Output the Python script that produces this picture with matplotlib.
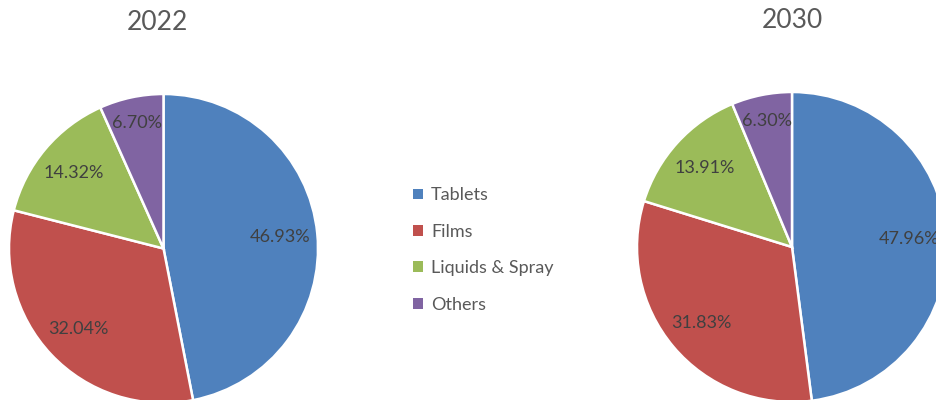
import matplotlib.pyplot as plt
from matplotlib.patches import Patch

# Market share by product type
categories = ['Tablets', 'Films', 'Liquids & Spray', 'Others']
share_2022 = [46.93, 32.04, 14.32, 6.70]
share_2030 = [47.96, 31.83, 13.91, 6.30]
years = ['2022', '2030']

colors = ['#4F81BD', '#C0504D', '#9BBB59', '#8064A2']

plt.rcParams['font.family'] = ['Lato', 'DejaVu Sans']

W, H = 936, 400
fig = plt.figure(figsize=(W / 100, H / 100), dpi=100)


def draw_pie(values, cx, cy, r, title, tx, ty):
    # cx, cy in pixels from top-left
    ax = fig.add_axes([(cx - r) / W, (H - cy - r) / H, 2 * r / W, 2 * r / H])
    total = sum(values)
    wedges, texts, autotexts = ax.pie(
        values, colors=colors, startangle=90, counterclock=False,
        autopct=lambda p: '%.2f%%' % (p * total / 100), pctdistance=0.76,
        wedgeprops=dict(edgecolor='white', linewidth=1.8),
        textprops=dict(fontsize=13, color='#404040'))
    # smallest slice label sits a bit further out
    x, y = autotexts[-1].get_position()
    autotexts[-1].set_position((x * 0.83 / 0.76, y * 0.83 / 0.76))
    ax.set_xlim(-1, 1)
    ax.set_ylim(-1, 1)
    ax.set_aspect('equal')
    ax.axis('off')
    fig.text(tx / W, 1 - ty / H, title, fontsize=19, color='#595959',
             ha='center', va='center')


draw_pie(share_2022, 163.5, 248.5, 154.5, years[0], 157, 22)
draw_pie(share_2030, 792, 247, 155, years[1], 792, 21)

handles = [Patch(facecolor=c, edgecolor='none') for c in colors]
leg = fig.legend(handles, categories, loc='center left',
                 bbox_to_anchor=(413 / W, 1 - 250 / H), frameon=False,
                 fontsize=13, labelcolor='#595959',
                 handlelength=0.55, handleheight=0.55, handletextpad=0.45,
                 labelspacing=1.13, borderaxespad=0, borderpad=0)

fig.savefig('out.png', dpi=100)
